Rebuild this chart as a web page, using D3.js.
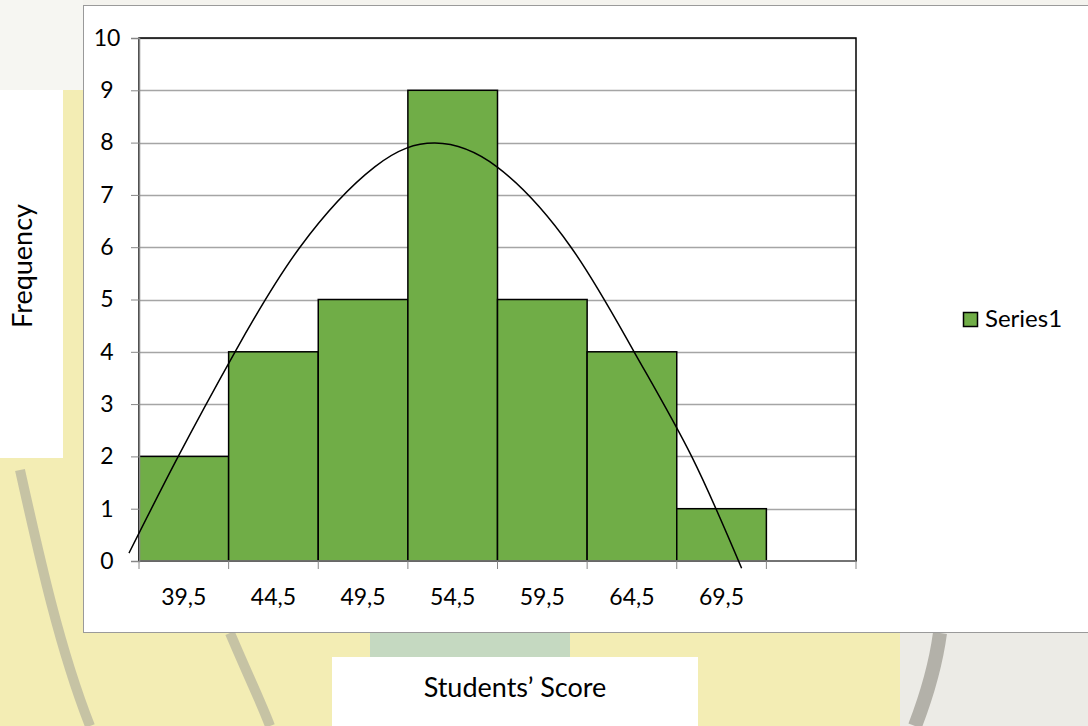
<!DOCTYPE html>
<html lang="en">
<head>
  <meta charset="UTF-8">
  <title>Students' Score Histogram</title>
  <script src="https://cdn.jsdelivr.net/npm/d3@7.8.5/dist/d3.min.js"></script>
  <style>
    html, body { margin: 0; padding: 0; background: #f3edb4; }
    svg { display: block; font-family: 'Lato', 'Noto Sans', sans-serif; }
  </style>
</head>
<body>
  <svg id="chart" width="1088" height="726"></svg>
  <script>
    // histogram classes (class marks) and frequencies
    const classLabels = ["39,5", "44,5", "49,5", "54,5", "59,5", "64,5", "69,5", ""];
    const frequencies = [2, 4, 5, 9, 5, 4, 1, 0];
    const yTicks = [0, 1, 2, 3, 4, 5, 6, 7, 8, 9, 10];
    // normal curve overlay (score, frequency)
    const curveScores = [36.44, 39.19, 42.36, 45.98, 50.17, 53.51, 56.99, 61.10, 64.62, 67.83, 70.62];
    const curveFreqs  = [0.15, 2.0, 4.0, 6.0, 7.54, 7.99, 7.53, 6.0, 4.0, 2.0, -0.14];
    const seriesName = "Series1";

    const svg = d3.select("#chart");
    const plot = { left: 139, right: 856, top: 38, bottom: 561 };

    // faint background shapes (scanned page watermark)
    const bg = svg.append("g");
    bg.append("rect").attr("x", 0).attr("y", 0).attr("width", 1088).attr("height", 6).attr("fill", "#f4f3ee");
    bg.append("rect").attr("x", 0).attr("y", 0).attr("width", 83).attr("height", 90).attr("fill", "#f6f6f2");
    bg.append("rect").attr("x", 900).attr("y", 633).attr("width", 188).attr("height", 93).attr("fill", "#ecebe6");
    bg.append("path").attr("d", "M20,470 C40,560 60,650 90,726").attr("stroke", "#a9a69a").attr("stroke-width", 10).attr("fill", "none").attr("opacity", 0.6);
    bg.append("path").attr("d", "M230,633 C250,680 260,700 270,726").attr("stroke", "#a9a69a").attr("stroke-width", 10).attr("fill", "none").attr("opacity", 0.6);
    bg.append("path").attr("d", "M940,633 C935,670 925,700 915,726").attr("stroke", "#8d8a80").attr("stroke-width", 14).attr("fill", "none").attr("opacity", 0.6);
    bg.append("rect").attr("x", 370).attr("y", 633).attr("width", 200).attr("height", 25).attr("fill", "#b9d3c4").attr("opacity", 0.8);

    // chart area
    svg.append("rect")
      .attr("x", 83.5).attr("y", 5.5).attr("width", 1020).attr("height", 627)
      .attr("fill", "#fff").attr("stroke", "#9a9a9a");

    // white boxes for axis titles
    svg.append("rect").attr("x", 0).attr("y", 90).attr("width", 63).attr("height", 368).attr("fill", "#fff");
    svg.append("rect").attr("x", 332).attr("y", 657).attr("width", 366).attr("height", 80).attr("fill", "#fff");

    const x = d3.scaleBand().domain(classLabels.map((d, i) => i)).range([plot.left, plot.right]).padding(0);
    const xs = d3.scaleLinear().domain([37, 77]).range([plot.left, plot.right]);
    const y = d3.scaleLinear().domain([0, 10]).range([plot.bottom, plot.top]);

    // gridlines
    svg.append("g")
      .selectAll("line")
      .data(yTicks.filter(d => d > 0))
      .enter()
      .append("line")
      .attr("x1", plot.left).attr("x2", plot.right)
      .attr("y1", d => Math.round(y(d)) + 0.5).attr("y2", d => Math.round(y(d)) + 0.5)
      .attr("stroke", "#a5a5a5").attr("stroke-width", 1.3);

    // plot area border
    svg.append("rect")
      .attr("x", plot.left).attr("y", plot.top)
      .attr("width", plot.right - plot.left).attr("height", plot.bottom - plot.top)
      .attr("fill", "none").attr("stroke", "#000").attr("stroke-width", 1.5);

    // bars
    const bars = frequencies.map((f, i) => ({ i, f })).filter(d => d.f > 0);
    svg.append("g")
      .selectAll("rect")
      .data(bars)
      .enter()
      .append("rect")
      .attr("x", d => x(d.i))
      .attr("y", d => y(d.f))
      .attr("width", x.bandwidth())
      .attr("height", d => y(0) - y(d.f))
      .attr("fill", "#70ad47")
      .attr("stroke", "#000")
      .attr("stroke-width", 1.5);

    // axes
    const yAxis = svg.append("g").attr("transform", `translate(${plot.left},0)`)
      .call(d3.axisLeft(y).tickValues(yTicks).tickSize(8).tickFormat(d3.format("d")));
    yAxis.select(".domain").attr("stroke", "#868686").attr("stroke-width", 1.5);
    yAxis.selectAll(".tick line").attr("stroke", "#868686");
    yAxis.selectAll(".tick text")
      .attr("x", -32).attr("text-anchor", "middle")
      .attr("font-size", 23).attr("fill", "#000").attr("font-family", "Lato");

    const tickPositions = d3.range(classLabels.length + 1).map(i => plot.left + i * x.bandwidth());
    const xAxis = svg.append("g");
    xAxis.append("line")
      .attr("x1", plot.left).attr("x2", plot.right)
      .attr("y1", plot.bottom).attr("y2", plot.bottom)
      .attr("stroke", "#868686").attr("stroke-width", 1.5);
    xAxis.selectAll("line.tk")
      .data(tickPositions)
      .enter()
      .append("line")
      .attr("class", "tk")
      .attr("x1", d => d).attr("x2", d => d)
      .attr("y1", plot.bottom).attr("y2", plot.bottom + 8)
      .attr("stroke", "#868686");
    xAxis.selectAll("text")
      .data(classLabels)
      .enter()
      .append("text")
      .attr("x", (d, i) => x(i) + x.bandwidth() / 2)
      .attr("y", 605)
      .attr("text-anchor", "middle")
      .attr("font-size", 23)
      .text(d => d);

    // curve
    const line = d3.line()
      .x(d => xs(d[0]))
      .y(d => y(d[1]))
      .curve(d3.curveNatural);
    svg.append("path")
      .datum(curveScores.map((s, i) => [s, curveFreqs[i]]))
      .attr("d", line)
      .attr("fill", "none")
      .attr("stroke", "#000")
      .attr("stroke-width", 1.5);

    // legend
    svg.append("rect")
      .attr("x", 963.5).attr("y", 312.5).attr("width", 14).attr("height", 14)
      .attr("fill", "#70ad47").attr("stroke", "#000").attr("stroke-width", 1.5);
    svg.append("text")
      .attr("x", 985).attr("y", 327)
      .attr("font-size", 24)
      .text(seriesName);

    // axis titles
    svg.append("text")
      .attr("transform", "translate(32,266) rotate(-90)")
      .attr("text-anchor", "middle")
      .attr("font-size", 27)
      .text("Frequency");
    svg.append("text")
      .attr("x", 515).attr("y", 697)
      .attr("text-anchor", "middle")
      .attr("font-size", 27)
      .text("Students’ Score");
  </script>
</body>
</html>
